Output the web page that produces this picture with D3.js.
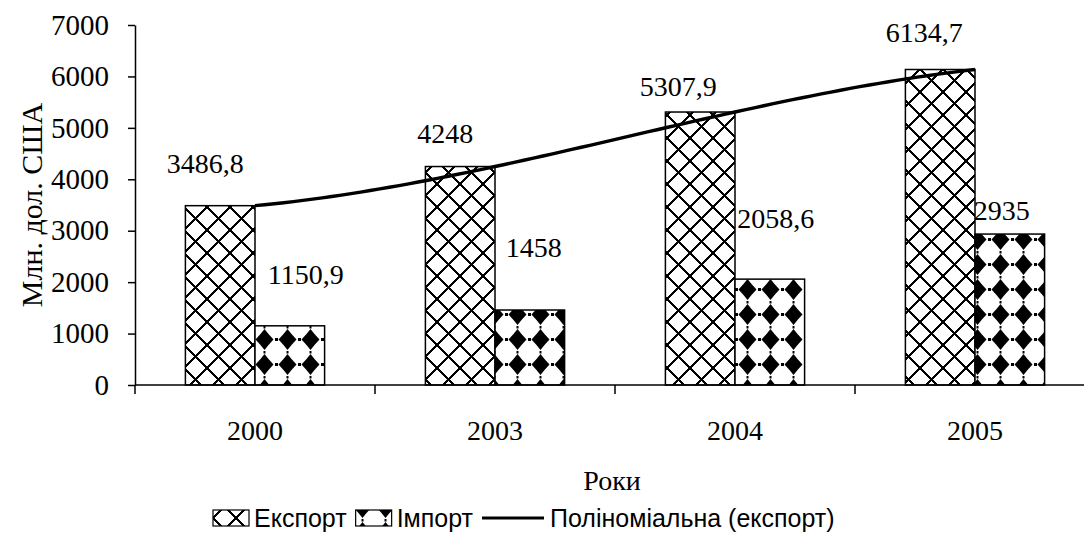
<!DOCTYPE html>
<html>
<head>
<meta charset="utf-8">
<script src="https://cdn.jsdelivr.net/npm/d3@7/dist/d3.min.js"></script>
<style>
  body { margin: 0; background: #fff; }
  svg { display: block; }
  .serif { font-family: "Liberation Serif", "Times New Roman", serif; }
  .sans { font-family: "Liberation Sans", Arial, sans-serif; }
</style>
</head>
<body>
<div class="chart"></div>
<script>
// data
const years = ['2000', '2003', '2004', '2005'];
const exportVals = [3486.8, 4248, 5307.9, 6134.7];
const importVals = [1150.9, 1458, 2058.6, 2935];
const yTicks = [0, 1000, 2000, 3000, 4000, 5000, 6000, 7000];
const seriesNames = ['Експорт', 'Імпорт', 'Поліноміальна (експорт)'];
const trendOrder = 3;

// hand placement of the value labels (pixels from top centre of each bar)
const exportNudge = [[-15, -42], [-15, -33], [-22, -26], [-16, -37]];
const importNudge = [[16, -52], [4, -63], [6, -61], [-8, -24]];

const width = 1084;
const height = 538;
const plotL = 135, plotR = 1095, plotT = 25, plotB = 385;
const fs = 28;

const svg = d3.select('.chart')
  .append('svg')
  .attr('width', width)
  .attr('height', height);

svg.append('rect').attr('width', width).attr('height', height).attr('fill', '#fff');

// fill patterns
const defs = svg.append('defs');
let pat = defs.append('pattern')
  .attr('id', 'pExp')
  .attr('patternUnits', 'userSpaceOnUse')
  .attr('width', 23).attr('height', 23);
pat.append('rect').attr('width', 23).attr('height', 23).attr('fill', '#fff');
pat.append('path')
  .attr('d', 'M0,0L23,23M23,0L0,23M-1,22L1,24M22,-1L24,1')
  .attr('stroke', '#000')
  .attr('stroke-width', 1.7)
  .attr('shape-rendering', 'crispEdges');

pat = defs.append('pattern')
  .attr('id', 'pImp')
  .attr('patternUnits', 'userSpaceOnUse')
  .attr('y', 2)
  .attr('width', 23).attr('height', 25);
pat.append('rect').attr('width', 23).attr('height', 25).attr('fill', '#fff');
pat.append('path')
  .attr('d', 'M11.5,2L15.5,7L20.5,12.5L15.5,18L11.5,23L7.5,18L2.5,12.5L7.5,7Z')
  .attr('fill', '#000');
pat.append('rect').attr('x', 0).attr('y', 11).attr('width', 2).attr('height', 3).attr('fill', '#000');
pat.append('rect').attr('x', 22).attr('y', 11).attr('width', 1).attr('height', 3).attr('fill', '#000');
pat.append('rect').attr('x', 10.5).attr('y', 0).attr('width', 2).attr('height', 1.5).attr('fill', '#000');
pat.append('rect').attr('x', 10.5).attr('y', 24).attr('width', 2).attr('height', 1).attr('fill', '#000');

// scales
const x0 = d3.scaleBand()
  .domain(years)
  .range([plotL, plotR])
  .paddingInner(0.42)
  .paddingOuter(0.21);

const x1 = d3.scaleBand()
  .domain(['exp', 'imp'])
  .range([0, x0.bandwidth()]);

const y = d3.scaleLinear()
  .domain([0, 7000])
  .range([plotB, plotT]);

// bars
const barData = [];
years.forEach(function(yr, i) {
  barData.push({ year: yr, key: 'exp', value: exportVals[i], nudge: exportNudge[i] });
  barData.push({ year: yr, key: 'imp', value: importVals[i], nudge: importNudge[i] });
});

svg.selectAll('.bar')
  .data(barData)
  .enter()
  .append('rect')
  .attr('class', 'bar')
  .attr('x', function(d) { return x0(d.year) + x1(d.key); })
  .attr('y', function(d) { return y(d.value); })
  .attr('width', x1.bandwidth())
  .attr('height', function(d) { return plotB - y(d.value); })
  .attr('fill', function(d) { return d.key === 'exp' ? 'url(#pExp)' : 'url(#pImp)'; })
  .attr('stroke', '#000')
  .attr('stroke-width', 1.5);

// polynomial trend: least squares fit of the export values, like Excel's trendline
function polyfit(xs, ys, order) {
  const m = order + 1;
  const A = d3.range(m).map(function(r) {
    return d3.range(m + 1).map(function(c) {
      if (c === m) return d3.sum(xs.map(function(xv, k) { return Math.pow(xv, r) * ys[k]; }));
      return d3.sum(xs.map(function(xv) { return Math.pow(xv, r + c); }));
    });
  });
  for (let i = 0; i < m; i++) {
    let p = i;
    for (let k = i + 1; k < m; k++) if (Math.abs(A[k][i]) > Math.abs(A[p][i])) p = k;
    const tmp = A[i]; A[i] = A[p]; A[p] = tmp;
    for (let k = i + 1; k < m; k++) {
      const f = A[k][i] / A[i][i];
      for (let c = i; c <= m; c++) A[k][c] -= f * A[i][c];
    }
  }
  const coef = new Array(m).fill(0);
  for (let i = m - 1; i >= 0; i--) {
    let s = A[i][m];
    for (let c = i + 1; c < m; c++) s -= A[i][c] * coef[c];
    coef[i] = s / A[i][i];
  }
  return function(xv) { return d3.sum(coef.map(function(a, k) { return a * Math.pow(xv, k); })); };
}

const idx = years.map(function(_, i) { return i + 1; });
const trend = polyfit(idx, exportVals, trendOrder);
const xIdx = d3.scaleLinear()
  .domain([1, years.length])
  .range([x0(years[0]) + x0.bandwidth() / 2, x0(years[years.length - 1]) + x0.bandwidth() / 2]);

const trendPts = d3.range(1, years.length + 1e-9, 0.04).map(function(s) {
  return [xIdx(s), y(trend(s))];
});

svg.append('path')
  .attr('d', d3.line()(trendPts))
  .attr('fill', 'none')
  .attr('stroke', '#000')
  .attr('stroke-width', 3.4);

// value labels
svg.selectAll('.val')
  .data(barData)
  .enter()
  .append('text')
  .attr('class', 'val serif')
  .attr('x', function(d) { return x0(d.year) + x1(d.key) + x1.bandwidth() / 2 + d.nudge[0]; })
  .attr('y', function(d) { return y(d.value) + d.nudge[1]; })
  .attr('dy', '0.35em')
  .attr('text-anchor', 'middle')
  .attr('font-size', fs)
  .text(function(d) { return String(d.value).replace('.', ','); });

// y axis
const yAxis = svg.append('g')
  .attr('transform', 'translate(' + plotL + ',0)')
  .call(d3.axisLeft(y).tickValues(yTicks).tickFormat(d3.format('d'))
    .tickSize(7).tickPadding(19).tickSizeOuter(0));
yAxis.selectAll('text').attr('font-size', fs + 1).attr('fill', '#000')
  .attr('font-family', '"Liberation Serif", "Times New Roman", serif');
yAxis.selectAll('line, path').attr('stroke', '#000').attr('stroke-width', 1.5);

// x axis: ticks on category boundaries
const bounds = years.map(function(yr) { return x0(yr) - x0.step() * 0.21; });
const xg = svg.append('g');
xg.append('line')
  .attr('x1', plotL).attr('x2', plotR)
  .attr('y1', plotB).attr('y2', plotB)
  .attr('stroke', '#000').attr('stroke-width', 1.5);
xg.selectAll('.xt')
  .data(bounds.concat([plotR]))
  .enter()
  .append('line')
  .attr('x1', function(d) { return d; }).attr('x2', function(d) { return d; })
  .attr('y1', plotB).attr('y2', plotB + 9)
  .attr('stroke', '#000').attr('stroke-width', 1.5);
xg.selectAll('.xl')
  .data(years)
  .enter()
  .append('text')
  .attr('class', 'serif')
  .attr('x', function(d) { return x0(d) + x0.bandwidth() / 2; })
  .attr('y', 430)
  .attr('dy', '0.35em')
  .attr('text-anchor', 'middle')
  .attr('font-size', fs)
  .text(function(d) { return d; });

// axis titles
svg.append('text')
  .attr('class', 'serif')
  .attr('x', (plotL + plotR) / 2 - 3)
  .attr('y', 480)
  .attr('dy', '0.35em')
  .attr('text-anchor', 'middle')
  .attr('font-size', fs)
  .text('Роки');

svg.append('text')
  .attr('class', 'serif')
  .attr('transform', 'translate(31,' + (plotT + plotB) / 2 + ') rotate(-90)')
  .attr('dy', '0.35em')
  .attr('text-anchor', 'middle')
  .attr('font-size', fs + 2)
  .text('Млн. дол. США');

// legend
const legend = svg.append('g').attr('class', 'sans').attr('transform', 'translate(213,518)');
let lx = 0;
seriesNames.forEach(function(name, i) {
  if (i < 2) {
    legend.append('rect')
      .attr('x', lx).attr('y', -8)
      .attr('width', 36).attr('height', 16)
      .attr('fill', i === 0 ? 'url(#pExp)' : 'url(#pImp)')
      .attr('stroke', '#000').attr('stroke-width', 1.2);
  } else {
    legend.append('line')
      .attr('x1', lx).attr('x2', lx + 62)
      .attr('y1', 0).attr('y2', 0)
      .attr('stroke', '#000').attr('stroke-width', 3);
  }
  const off = i < 2 ? 41 : 68;
  const t = legend.append('text')
    .attr('x', lx + off)
    .attr('dy', '0.36em')
    .attr('font-size', 25)
    .text(name);
  lx += off + t.node().getComputedTextLength() + 9;
});
</script>
</body>
</html>
